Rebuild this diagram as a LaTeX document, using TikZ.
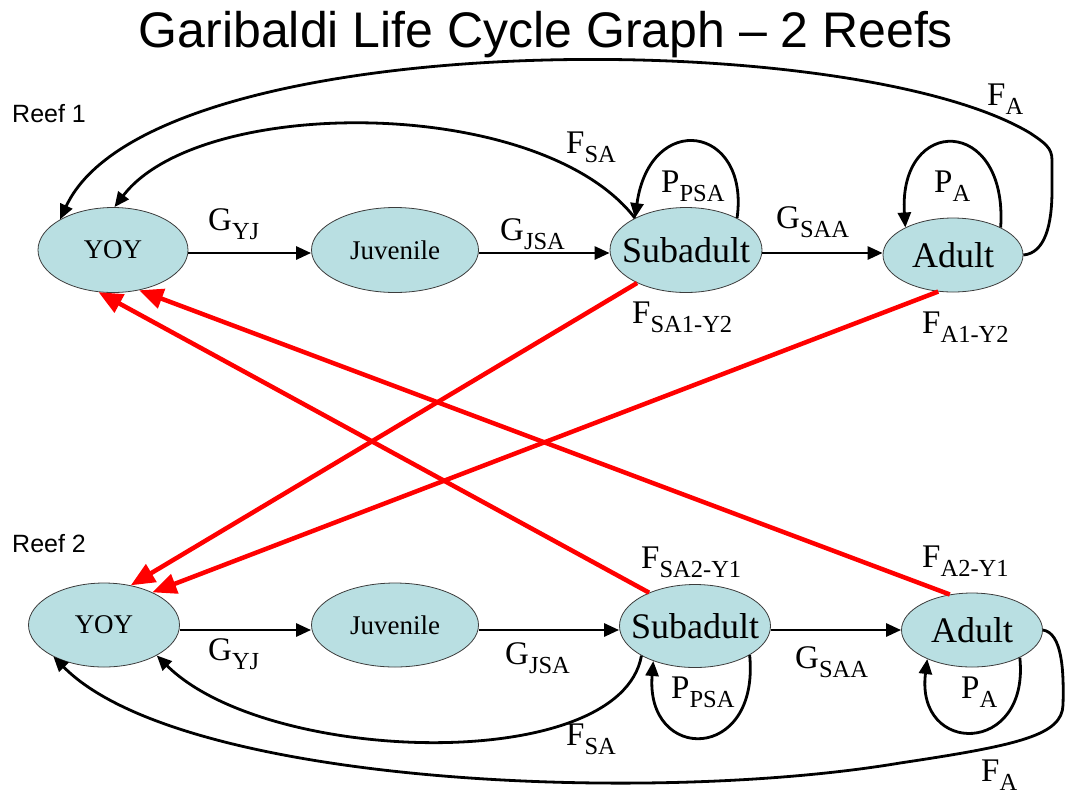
\documentclass[tikz,border=0pt]{standalone}
\usepackage{fontspec}
\setmainfont{Liberation Serif}
\newfontfamily\arialf{Liberation Sans}
\usetikzlibrary{arrows.meta,shapes.geometric}
\definecolor{nodefill}{RGB}{185,223,226}
\definecolor{nodeline}{RGB}{60,60,60}
\definecolor{redline}{RGB}{255,0,0}
\newcommand{\lab}[2]{{\fontsize{33}{33}\selectfont #1\raisebox{-9pt}{\fontsize{24.5}{24.5}\selectfont #2}}}
\begin{document}
\begin{tikzpicture}[x=1pt,y=-1pt,
  st/.style={ellipse, draw=nodeline, line width=0.8pt, fill=nodefill, inner sep=0pt},
  smalltxt/.style={inner sep=0pt, font=\fontsize{27}{27}\selectfont},
  bigtxt/.style={inner sep=0pt, font=\fontsize{36}{36}\selectfont},
  arr/.style={line width=2.8pt, -{Triangle[length=15pt,width=13pt]}},
  redarr/.style={line width=4.5pt, draw=redline, -{Triangle[length=24pt,width=20pt]}},
  lbl/.style={anchor=base west, inner sep=0pt},
  reef/.style={anchor=base west, inner sep=0pt, font=\arialf\fontsize{25}{25}\selectfont}]
\useasboundingbox (0,0) rectangle (1065,796);

% title and reef labels
\node[anchor=base, inner sep=0pt, font=\arialf\fontsize{50}{50}\selectfont] (title) at (546,47) {Garibaldi Life Cycle Graph – 2 Reefs};
\node[reef] (reef1) at (12,122) {Reef 1};
\node[reef] (reef2) at (12,552) {Reef 2};

% Reef 1 nodes
\node[st, minimum width=150pt, minimum height=85pt] (Y1) at (113,250) {};
\node[smalltxt] (Y1t) at (Y1) {YOY};
\node[st, minimum width=167pt, minimum height=85pt] (J1) at (395,250) {};
\node[smalltxt] (J1t) at (J1) {Juvenile};
\node[st, minimum width=152pt, minimum height=85pt] (S1) at (686,250) {};
\node[bigtxt] (S1t) at (S1) {Subadult};
\node[st, minimum width=140pt, minimum height=74pt] (A1) at (953,255) {};
\node[bigtxt] (A1t) at (A1) {Adult};

% Reef 2 nodes
\node[st, minimum width=151pt, minimum height=84pt] (Y2) at (104,625) {};
\node[smalltxt] (Y2t) at (Y2) {YOY};
\node[st, minimum width=167pt, minimum height=84pt] (J2) at (395,625) {};
\node[smalltxt] (J2t) at (J2) {Juvenile};
\node[st, minimum width=151pt, minimum height=83pt] (S2) at (695,626) {};
\node[bigtxt] (S2t) at (S2) {Subadult};
\node[st, minimum width=141pt, minimum height=74pt] (A2) at (972,630) {};
\node[bigtxt] (A2t) at (A2) {Adult};

% Reef 1 edges
\draw[arr] ([yshift=-3pt]Y1.east) -- ([yshift=-3pt]J1.west);
\draw[arr] ([yshift=-3pt]J1.east) -- ([yshift=-3pt]S1.west);
\draw[arr] ([yshift=-3pt]S1.east) -- ([yshift=2pt]A1.west);
\draw[arr] (S1.32) .. controls (750,125) and (650,110) .. (S1.148);
\draw[arr] (A1.30) .. controls (1008,115) and (898,115) .. (A1.150);
\draw[arr] (S1.148) .. controls (540,95) and (200,95) .. (Y1.88);
\draw[arr] (A1.east) .. controls (1045,253) and (1052,225) .. (1052,190)
  -- (1052,160) .. controls (1052,148) and (1045,143) .. (1030,133)
  .. controls (850,25) and (150,25) .. (Y1.150);

% Reef 2 edges
\draw[arr] ([yshift=-5pt]Y2.east) -- ([yshift=-5pt]J2.west);
\draw[arr] ([yshift=-5pt]J2.east) -- ([yshift=-4pt]S2.west);
\draw[arr] ([yshift=-4pt]S2.east) -- (A2.west);
\draw[arr] (S2.332) .. controls (760,763) and (645,763) .. (S2.220);
\draw[arr] (A2.330) .. controls (1030,756) and (915,756) .. (A2.213);
\draw[arr] (S2.209) .. controls (620,775) and (267,765) .. (Y2.330);
\draw[arr] (A2.east) .. controls (1062,633) and (1064,670) .. (1063,705)
  .. controls (1062,735) and (1020,745) .. (900,763)
  .. controls (650,805) and (180,785) .. (Y2.212);

% red cross-reef edges
\draw[redarr] (S1.214) -- (Y2.56);
\draw[redarr] (A1.248) -- (Y2.34);
\draw[redarr] (S2.144) -- (Y1.251);
\draw[redarr] (A2.122) -- (Y1.303);

% labels reef 1
\node[lbl] (lGYJa) at (208,230) {\lab{G}{YJ}};
\node[lbl] (lGJSAa) at (500,240) {\lab{G}{JSA}};
\node[lbl] (lGSAAa) at (776,228) {\lab{G}{SAA}};
\node[lbl] (lFSAa) at (566,153) {\lab{F}{SA}};
\node[lbl] (lPPSAa) at (661,192) {\lab{P}{PSA}};
\node[lbl] (lPAa) at (934,192) {\lab{P}{A}};
\node[lbl] (lFAa) at (987,105) {\lab{F}{A}};
\node[lbl] (lFSA12) at (632,323) {\lab{F}{SA1-Y2}};
\node[lbl] (lFA12) at (922,333) {\lab{F}{A1-Y2}};

% labels reef 2
\node[lbl] (lGYJb) at (208,660) {\lab{G}{YJ}};
\node[lbl] (lGJSAb) at (505,664) {\lab{G}{JSA}};
\node[lbl] (lGSAAb) at (795,668) {\lab{G}{SAA}};
\node[lbl] (lPPSAb) at (671,698) {\lab{P}{PSA}};
\node[lbl] (lPAb) at (961,698) {\lab{P}{A}};
\node[lbl] (lFSAb) at (566,745) {\lab{F}{SA}};
\node[lbl] (lFAb) at (981,781) {\lab{F}{A}};
\node[lbl] (lFSA21) at (641,568) {\lab{F}{SA2-Y1}};
\node[lbl] (lFA21) at (922,567) {\lab{F}{A2-Y1}};
\end{tikzpicture}
\end{document}
